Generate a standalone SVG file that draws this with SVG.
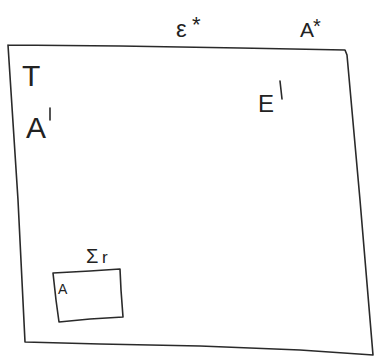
<svg xmlns="http://www.w3.org/2000/svg" width="376" height="358" viewBox="0 0 376 358">
<style>
.ln{fill:none;stroke:#2a2a2a;stroke-width:1.6;stroke-linecap:round;stroke-linejoin:round}
.t{font-family:"Liberation Sans",Arial,sans-serif;fill:#222}
</style>
<rect width="376" height="358" fill="#fff"/>
<g id="outer">
<path class="ln" d="M8,45 L120,46 L240,48 L345,50 L347,55 L360,200 L373,355 L300,350 L200,346 L100,344 L25,342 L18,200 L8,45"/>
</g>
<g id="inner">
<path class="ln" d="M53,273 L90,271 L120,269 L121,290 L123,317 L90,319 L59,322 L56,300 Z"/>
</g>
<g id="labels">
<text class="t" x="176" y="37" font-size="24">ε</text>
<text class="t" x="192" y="32" font-size="22">*</text>
<text class="t" x="300" y="37" font-size="21">A</text>
<text class="t" x="313" y="33" font-size="20">*</text>
<text class="t" x="22" y="86" font-size="30">T</text>
<text class="t" x="26" y="138" font-size="30">A</text>
<path class="ln" d="M50,108 L50,120"/>
<text class="t" x="258" y="112" font-size="24">E</text>
<path class="ln" d="M280,81 L282,99"/>
<text class="t" x="86" y="263" font-size="20">Σ</text>
<text class="t" x="102" y="263" font-size="17">r</text>
<text class="t" x="58" y="294" font-size="14">A</text>
</g>
</svg>
